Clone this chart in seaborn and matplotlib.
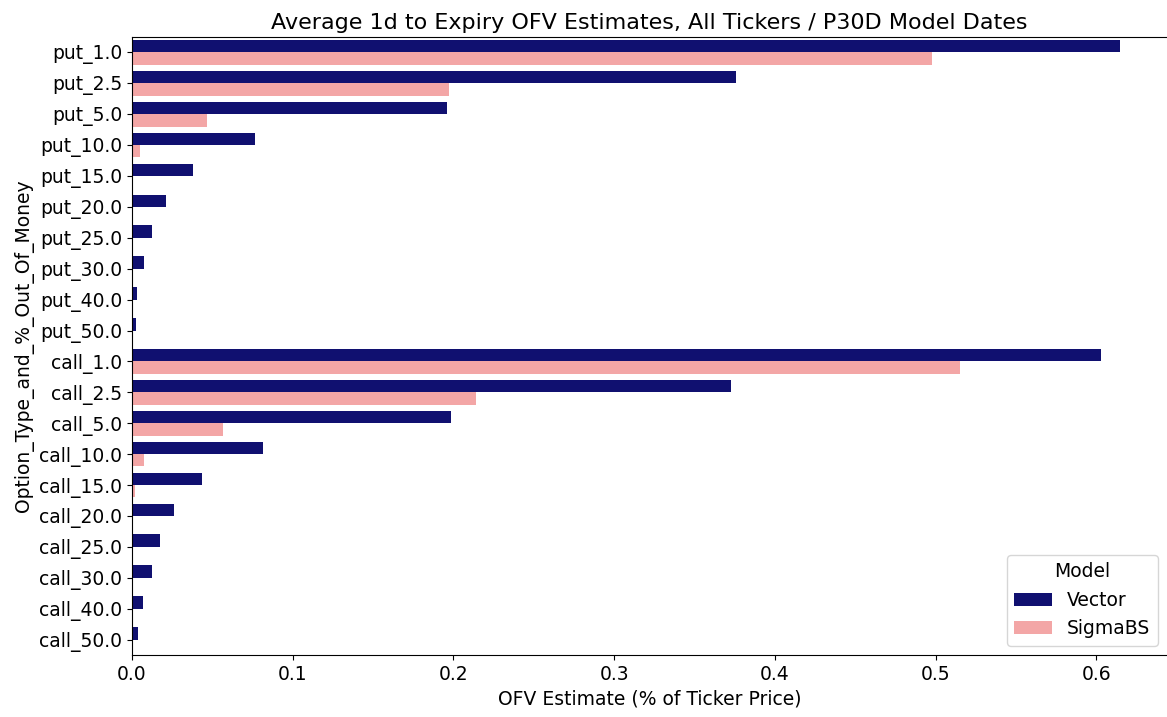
import pandas as pd
import matplotlib
matplotlib.use("Agg")
import matplotlib.pyplot as plt
import seaborn as sns

# option buckets, top to bottom
categories = [
    "put_1.0", "put_2.5", "put_5.0", "put_10.0", "put_15.0",
    "put_20.0", "put_25.0", "put_30.0", "put_40.0", "put_50.0",
    "call_1.0", "call_2.5", "call_5.0", "call_10.0", "call_15.0",
    "call_20.0", "call_25.0", "call_30.0", "call_40.0", "call_50.0",
]

vector_vals = [
    0.615, 0.376, 0.196, 0.0764, 0.0377,
    0.021, 0.0122, 0.0073, 0.0029, 0.0022,
    0.603, 0.373, 0.1988, 0.0814, 0.0434,
    0.026, 0.0174, 0.0124, 0.0068, 0.0036,
]

sigmabs_vals = [
    0.498, 0.1975, 0.0466, 0.0048, 0.0003,
    0.0001, 0.0, 0.0, 0.0, 0.0,
    0.5155, 0.214, 0.0565, 0.0074, 0.0017,
    0.0002, 0.0, 0.0, 0.0, 0.0,
]

models = ["Vector", "SigmaBS"]
colors = {"Vector": "#101070", "SigmaBS": "#F3A6A6"}


def build_frame():
    rows = []
    for cat, v, s in zip(categories, vector_vals, sigmabs_vals):
        rows.append({"Option_Type_and_%_Out_Of_Money": cat, "Model": "Vector", "ofv": v})
        rows.append({"Option_Type_and_%_Out_Of_Money": cat, "Model": "SigmaBS", "ofv": s})
    return pd.DataFrame(rows)


df = build_frame()

plt.rcParams["font.size"] = 13.5
fig = plt.figure(figsize=(11.67, 7.17), dpi=100)
ax = fig.add_axes([0.1131, 0.0865, 0.8869, 0.862])

sns.barplot(data=df, y="Option_Type_and_%_Out_Of_Money", x="ofv", hue="Model",
            hue_order=models, order=categories, palette=colors,
            saturation=1, orient="h", ax=ax)

ax.spines["right"].set_visible(False)
ax.set_xlim(0, 0.644)
ax.set_title("Average 1d to Expiry OFV Estimates, All Tickers / P30D Model Dates", fontsize=16)
ax.set_xlabel("OFV Estimate (% of Ticker Price)")
ax.set_ylabel("Option_Type_and_%_Out_Of_Money")
ax.legend(title="Model", loc="lower right")

fig.savefig("out.png", dpi=100)
